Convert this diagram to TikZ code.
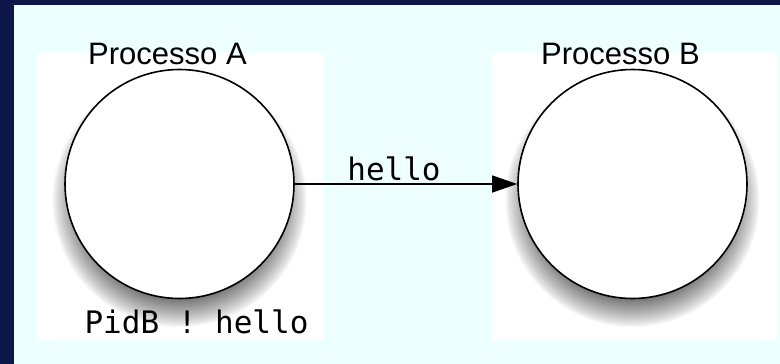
\documentclass[tikz,border=0pt]{standalone}
\usepackage{fontspec}
\setmainfont{Liberation Sans}
\newfontfamily\monofont{DejaVu Sans Mono}
\usetikzlibrary{arrows.meta}
\definecolor{navybg}{RGB}{12,22,72}
\definecolor{cyanbg}{RGB}{238,255,255}
\begin{document}
\begin{tikzpicture}[x=1pt,y=-1pt,
  proc/.style={circle,draw=black,line width=1.6pt,fill=white,
    minimum size=229pt,inner sep=0pt},
  lbl/.style={anchor=base,font=\fontsize{31}{31}\selectfont},
  mono/.style={anchor=base,font=\monofont\fontsize{31}{31}\selectfont},
  panel/.style={fill=white,draw=none},
  msg/.style={line width=1.4pt,-{Triangle[length=25pt,width=17pt]}}]
\useasboundingbox (0,0) rectangle (780,364);
\fill[navybg] (0,0) rectangle (780,364);
\fill[cyanbg] (14,5) rectangle (780,364);
% white panels
\fill[panel] (37,53) rectangle (323,340);
\fill[panel] (491,53) rectangle (777,340);
% soft shadows
\foreach \cx in {179.5,632.5}{
  \foreach \i in {0,...,38}{
    \pgfmathsetmacro{\rr}{128-\i}
    \pgfmathsetmacro{\cc}{68*(\i/38)^0.85}
    \fill[black!\cc] (\cx,200) circle[radius=\rr];
  }
}
% processes
\node[proc] (A) at (179.5,184) {};
\node[proc] (B) at (632.5,184) {};
\draw[msg] (A) -- (B);
% labels
\node[lbl] (la) at (167.5,64) {Processo A};
\node[lbl] (lb) at (620.5,64) {Processo B};
\node[mono] (hello) at (394,180) {hello};
\node[mono] (send) at (196.5,333) {PidB ! hello};
\end{tikzpicture}
\end{document}
